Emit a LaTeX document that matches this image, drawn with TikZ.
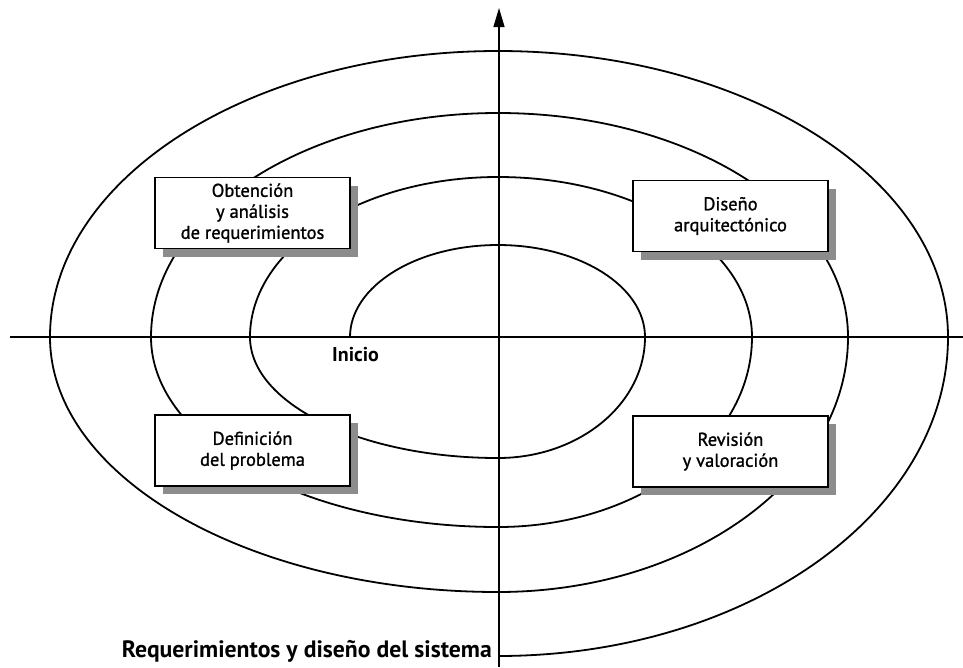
\documentclass[tikz,border=0pt]{standalone}
\usepackage{fontspec}
\setmainfont{PT Sans}
\newfontfamily\boxfont[FakeBold=1.2]{PT Sans}
\usetikzlibrary{arrows.meta,shadows}
\definecolor{shadowgray}{gray}{0.55}
\tikzset{
  spiral/.style={line width=1.8pt, line join=round},
  axis/.style={line width=1.2pt},
  stagebox/.style={draw=black, line width=1.3pt, fill=white,
    minimum width=195pt, minimum height=71pt, inner sep=0pt, align=center,
    font=\boxfont\fontsize{18.5}{21}\selectfont,
    general shadow={fill=shadowgray, shadow xshift=8pt, shadow yshift=-8pt}},
  boldlabel/.style={font=\bfseries\fontsize{20}{24}\selectfont, inner sep=0pt}
}
\begin{document}
\begin{tikzpicture}[x=1pt,y=1pt]
\useasboundingbox (0,0) rectangle (963,-667);
% axes
\coordinate (xl) at (10,-337);
\coordinate (xr) at (963,-337);
\coordinate (yb) at (499,-667);
\coordinate (yt) at (499,-8);
\draw[axis] (xl) -- (xr);
\draw[axis, -{Triangle[length=19pt,width=11pt]}] (yb) -- (yt);
% spiral
\coordinate (start) at (350,-337);
\draw[spiral] (start)
  arc[start angle=180, end angle=90, x radius=148pt, y radius=92pt]
  arc[start angle=90, end angle=0, x radius=147pt, y radius=92pt]
  arc[start angle=0, end angle=-90, x radius=147pt, y radius=121pt]
  arc[start angle=-90, end angle=-180, x radius=248pt, y radius=121pt]
  arc[start angle=180, end angle=90, x radius=248pt, y radius=160pt]
  arc[start angle=90, end angle=0, x radius=254pt, y radius=160pt]
  arc[start angle=0, end angle=-90, x radius=254pt, y radius=190pt]
  arc[start angle=-90, end angle=-180, x radius=347pt, y radius=190pt]
  arc[start angle=180, end angle=90, x radius=347pt, y radius=224pt]
  arc[start angle=90, end angle=0, x radius=350pt, y radius=224pt]
  arc[start angle=0, end angle=-90, x radius=350pt, y radius=255pt]
  arc[start angle=-90, end angle=-180, x radius=448pt, y radius=255pt]
  arc[start angle=180, end angle=90, x radius=448pt, y radius=286pt]
  arc[start angle=90, end angle=0, x radius=450pt, y radius=286pt]
  arc[start angle=0, end angle=-90, x radius=450pt, y radius=319pt];
% boxes
\node[stagebox] (b1) at (252.5,-213) {Obtención\\y análisis\\de requerimientos};
\node[stagebox] (b2) at (730.5,-216) {Diseño\\arquitectónico};
\node[stagebox] (b3) at (252.5,-450.5) {Definición\\del problema};
\node[stagebox] (b4) at (730.5,-451.5) {Revisión\\y valoración};
% labels
\node[boldlabel, anchor=base west] (inicio) at (332,-361) {Inicio};
\node[boldlabel, font=\bfseries\fontsize{23.7}{27}\selectfont, anchor=base east] (titulo) at (492,-657) {Requerimientos y diseño del sistema};
\end{tikzpicture}
\end{document}
